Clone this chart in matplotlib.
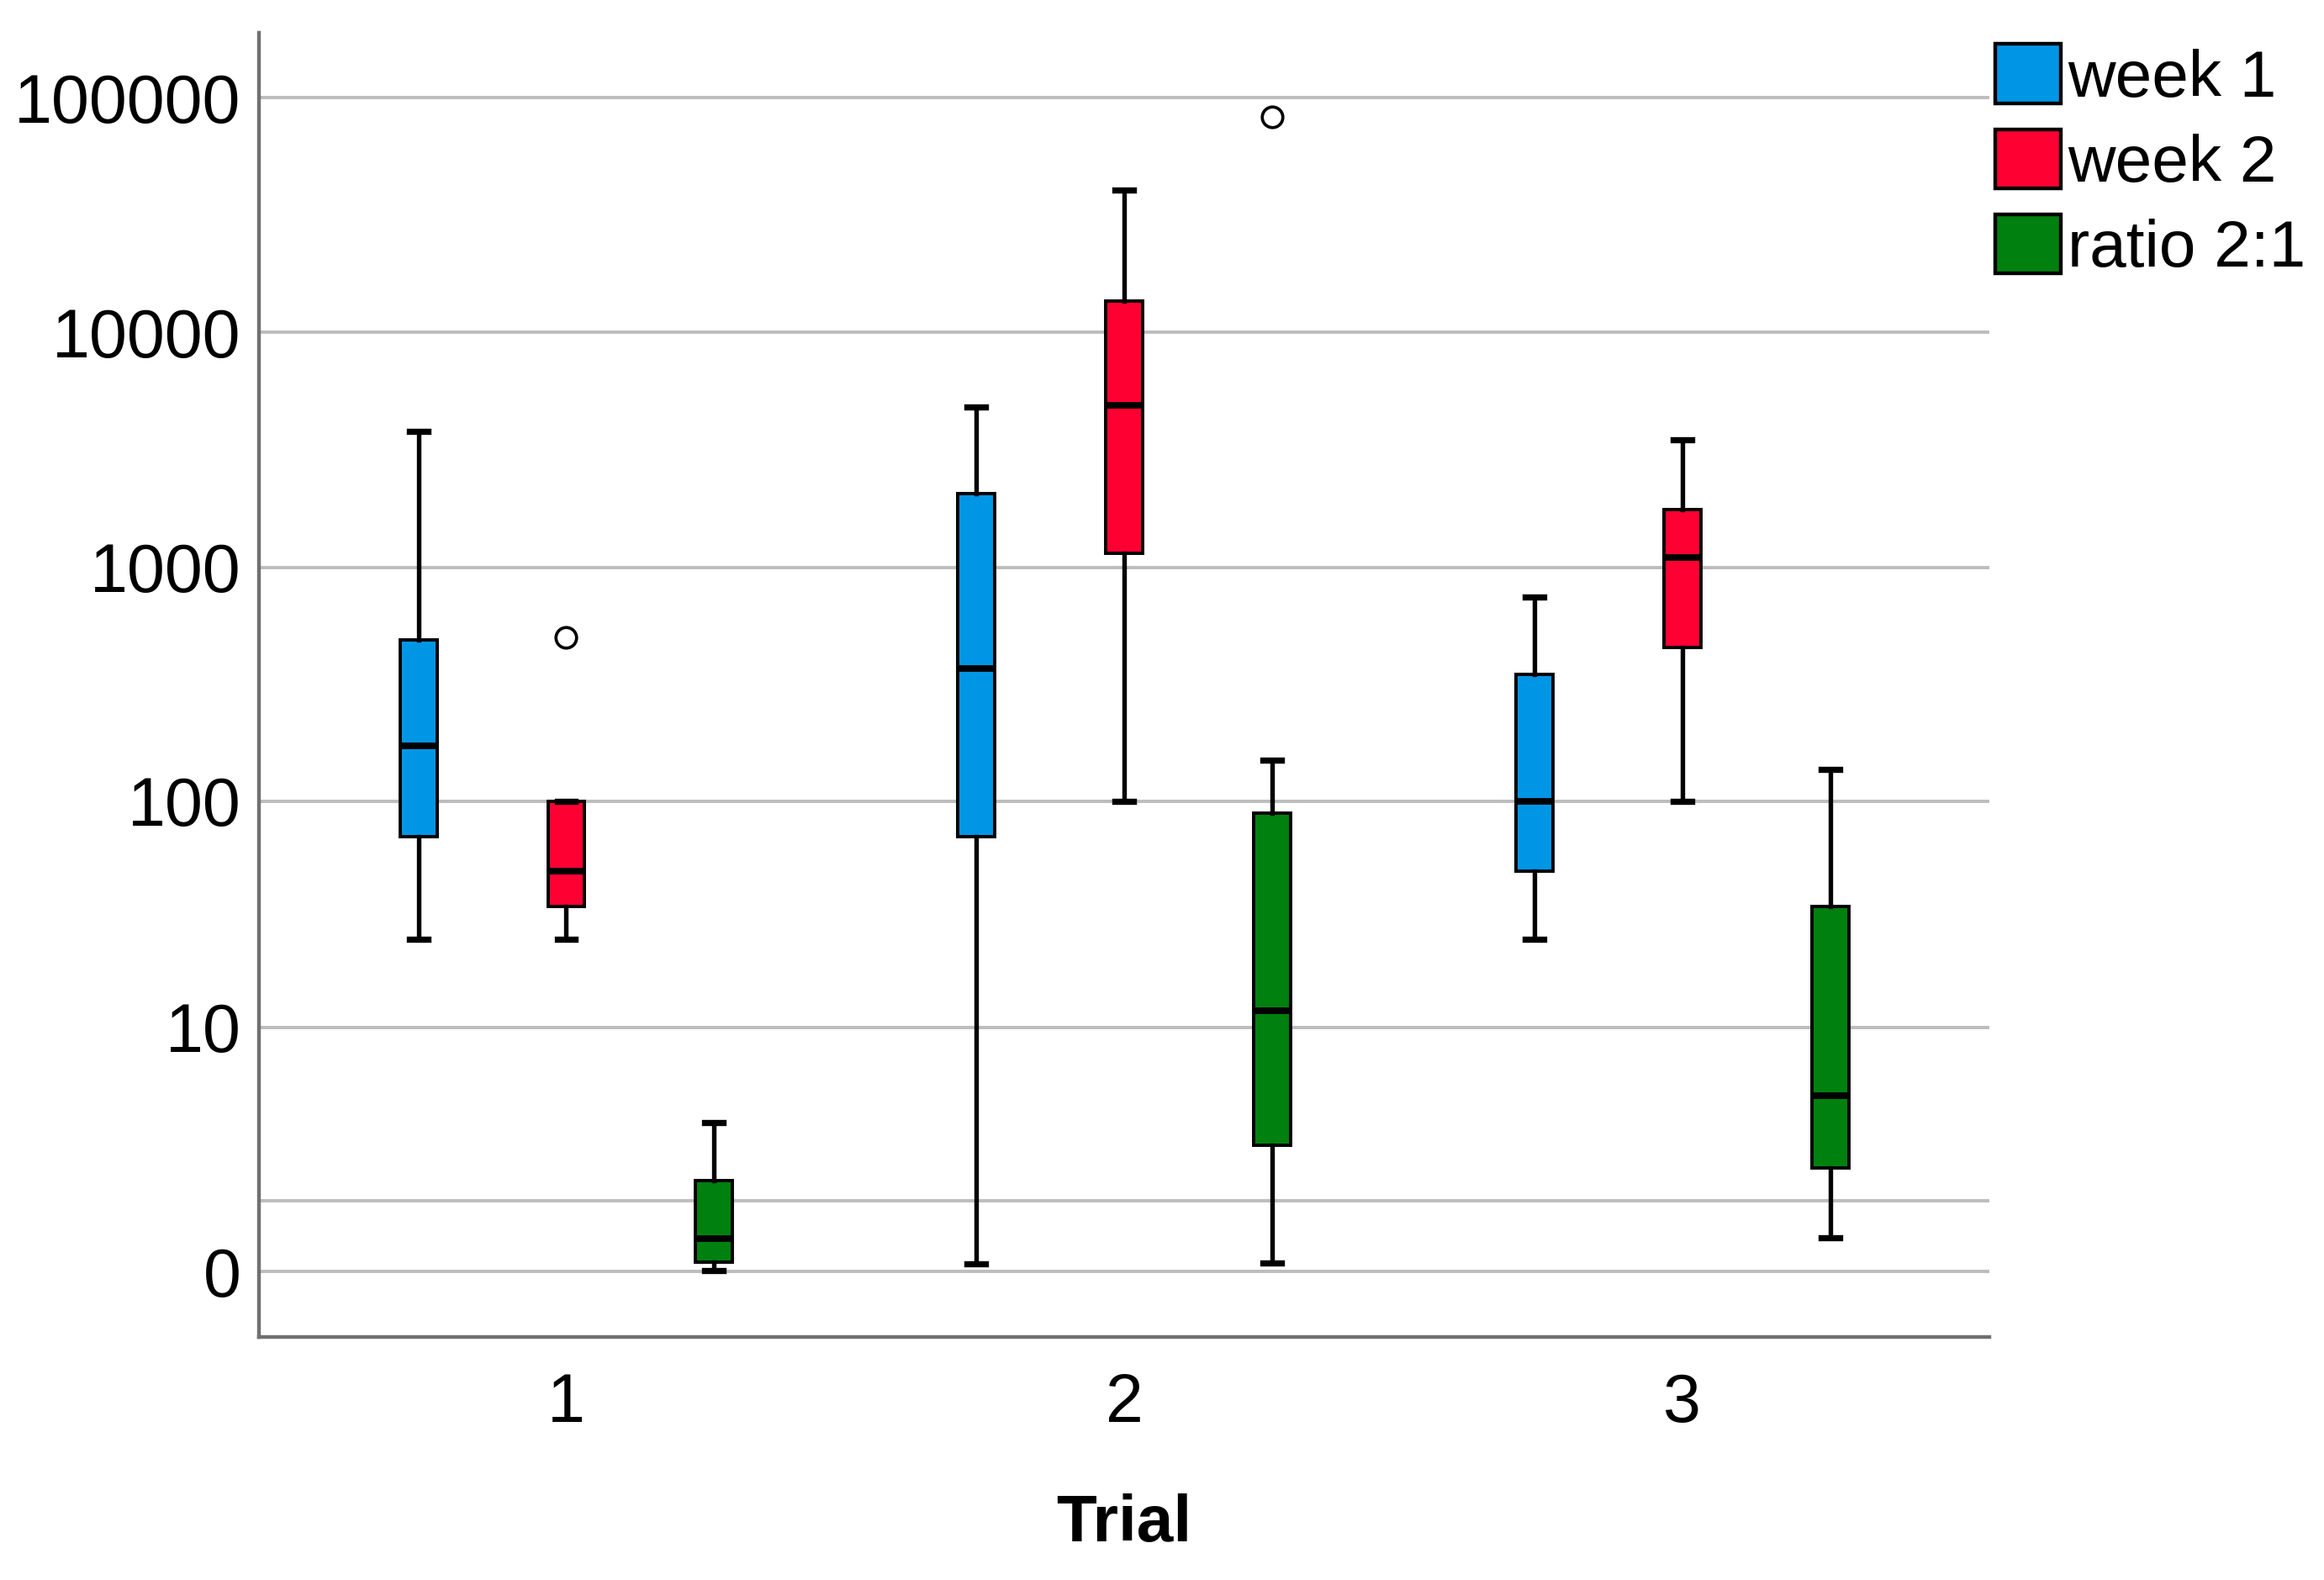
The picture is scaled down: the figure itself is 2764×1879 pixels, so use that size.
import numpy as np
import matplotlib
matplotlib.use('Agg')
import matplotlib.pyplot as plt
from matplotlib.patches import Patch

plt.rcParams['font.family'] = ['Liberation Sans', 'DejaVu Sans']

trials = ['1', '2', '3']
series = ['week 1', 'week 2', 'ratio 2:1']
colors = ['#0096E6', '#FF0033', '#00800F']

# box stats: [whislo, q1, median, q3, whishi]
week1 = [[25, 70, 173, 490, 3800],
         [0.08, 70, 370, 2060, 4800],
         [25, 50, 100, 350, 745]]
week2 = [[25, 35, 50, 100, 100],
         [100, 1150, 4900, 13600, 40500],
         [100, 455, 1100, 1760, 3480]]
ratio = [[0.015, 0.1, 0.38, 1.45, 3.3],
         [0.09, 2.45, 11.9, 89, 150],
         [0.4, 1.77, 4.6, 35, 137]]
week1_out = [[], [], []]
week2_out = [[500], [], []]
ratio_out = [[], [82800], []]

yticks = [0, 1, 10, 100, 1000, 10000, 100000]
yticklabels = ['0', '', '10', '100', '1000', '10000', '100000']


def fwd(x):
    with np.errstate(invalid='ignore', divide='ignore'):
        return np.log10(np.asarray(x, dtype=float) + 1)


def inv(y):
    return 10 ** np.asarray(y, dtype=float) - 1


fig = plt.figure(figsize=(15.68, 10.66), dpi=176.28)
ax = fig.add_axes([0.1116, 0.1538, 0.7443, 0.8256])
ax.set_yscale('function', functions=(fwd, inv))

x = np.arange(1, len(trials) + 1)
offsets = [-0.265, 0.0, 0.265]
data = [week1, week2, ratio]
outs = [week1_out, week2_out, ratio_out]

for k in range(3):
    stats = []
    for i in range(3):
        lo, q1, med, q3, hi = data[k][i]
        stats.append(dict(whislo=lo, q1=q1, med=med, q3=q3, whishi=hi, fliers=outs[k][i]))
    ax.bxp(stats, positions=x + offsets[k], widths=0.066, capwidths=0.033,
           patch_artist=True, manage_ticks=False,
           boxprops=dict(facecolor=colors[k], edgecolor='black', linewidth=1.6),
           medianprops=dict(color='black', linewidth=3.2, solid_capstyle='butt'),
           whiskerprops=dict(color='black', linewidth=2.2),
           capprops=dict(color='black', linewidth=3.0),
           flierprops=dict(marker='o', markerfacecolor='none', markeredgecolor='black',
                           markersize=10, markeredgewidth=1.5))

ax.set_xlim(0.45, 3.55)
ax.set_ylim(-0.473, 189700)
ax.set_xticks(x)
ax.set_xticklabels(trials)
ax.set_yticks(yticks)
ax.set_yticklabels(yticklabels)
ax.minorticks_off()
ax.tick_params(axis='both', length=0, labelsize=33)
ax.tick_params(axis='x', pad=17)
ax.tick_params(axis='y', pad=9)
ax.yaxis.grid(True, color='#bdbdbd', linewidth=1.6)
ax.set_axisbelow(True)
for s in ['top', 'right']:
    ax.spines[s].set_visible(False)
for s in ['left', 'bottom']:
    ax.spines[s].set_color('#707070')
    ax.spines[s].set_linewidth(1.8)

ax.set_xlabel('Trial', fontsize=32, fontweight='bold', labelpad=28)

handles = [Patch(facecolor=c, edgecolor='black', linewidth=1.8) for c in colors]
fig.legend(handles, series, loc='upper left', bbox_to_anchor=(0.8585, 0.972),
           frameon=False, fontsize=32, borderpad=0, borderaxespad=0,
           handlelength=1.0, handleheight=1.0, handletextpad=0.1, labelspacing=0.3)

fig.savefig('out.png', dpi=fig.dpi)
